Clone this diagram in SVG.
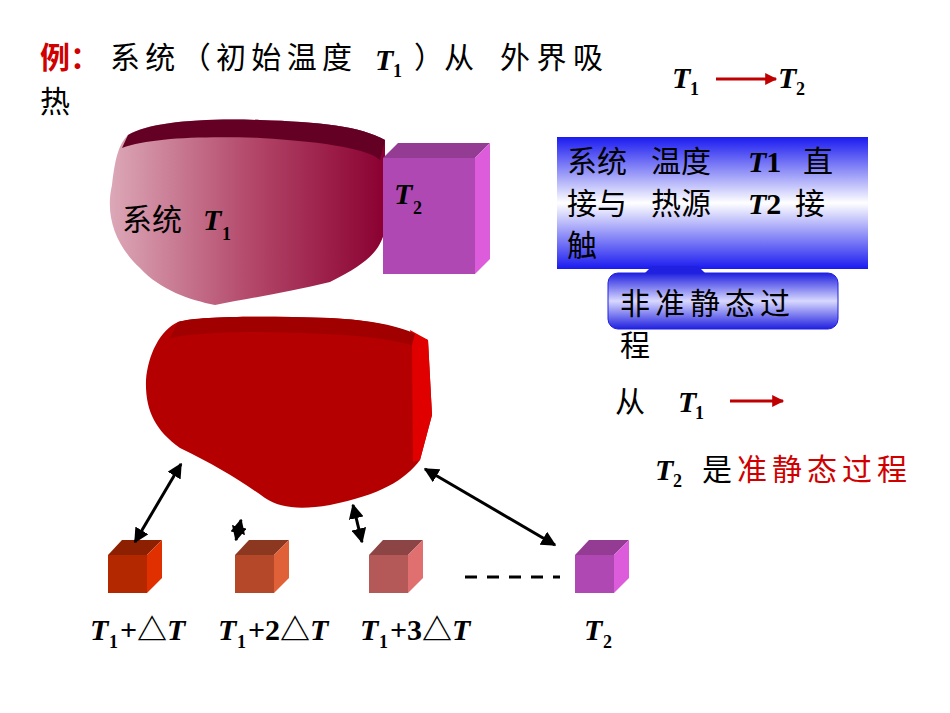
<svg xmlns="http://www.w3.org/2000/svg" width="950" height="713" viewBox="0 0 950 713">
<defs>
<linearGradient id="pk" x1="0" y1="0" x2="1" y2="0"><stop offset="0" stop-color="#dca8b8"/><stop offset="0.5" stop-color="#b44a6c"/><stop offset="1" stop-color="#8a0030"/></linearGradient>
<linearGradient id="bl" x1="0" y1="0" x2="0" y2="1"><stop offset="0" stop-color="#1a1af0"/><stop offset="0.5" stop-color="#ffffff"/><stop offset="1" stop-color="#1a1af0"/></linearGradient>
<linearGradient id="bl2" x1="0" y1="0" x2="0" y2="1"><stop offset="0" stop-color="#2020e0"/><stop offset="0.5" stop-color="#d8d8ff"/><stop offset="1" stop-color="#2020e0"/></linearGradient>
<marker id="ah" viewBox="0 0 10 10" refX="9" refY="5" markerWidth="5" markerHeight="5" orient="auto-start-reverse"><path d="M0,0L10,5L0,10z" fill="#000"/></marker>
<marker id="ar" viewBox="0 0 10 10" refX="9" refY="5" markerWidth="5" markerHeight="4" orient="auto"><path d="M0,0L10,5L0,10z" fill="#c00000"/></marker>
</defs>
<style>
text{font-family:"Liberation Sans","Noto Sans CJK SC",sans-serif;font-size:30px;fill:#000}
.i{font-family:"Liberation Serif",serif;font-style:italic;font-weight:bold}
.u{font-family:"Liberation Serif","Noto Sans CJK SC",serif;font-weight:bold}
.n{font-family:"Liberation Serif",serif;font-weight:bold;font-size:18px}
.k{stroke:#000;stroke-width:3;fill:none}
</style>
<g id="title">
<text x="40" y="68" font-weight="bold" style="fill:#d00000">例：</text>
<text x="110" y="68" textLength="242" lengthAdjust="spacing">系统（初始温度</text>
<text x="375" y="70" class="i">T</text><text x="393" y="77" class="n">1</text>
<text x="414" y="68">）从</text>
<text x="500" y="68" textLength="103" lengthAdjust="spacing">外界吸</text>
<text x="40" y="112">热</text>
</g>
<g id="t1t2">
<text x="672" y="88" class="i">T</text><text x="690" y="95" class="n">1</text>
<text x="778" y="88" class="i">T</text><text x="796" y="95" class="n">2</text>
</g>
<g id="sys1">
<path d="M128,135 C150,122 200,118 260,120 C320,122 360,126 385,140 L385,230 C380,250 370,262 330,282 C290,292 250,298 215,305 C190,300 160,290 140,268 C115,245 105,215 112,185 C115,160 118,145 128,135 Z" fill="url(#pk)"/>
<path d="M128,135 C150,122 200,118 260,120 C320,122 360,126 385,140 L380,160 C370,150 330,142 260,138 C200,136 150,138 122,148 Z" fill="#650025"/>
<text x="122" y="230">系统</text><text x="203" y="230" class="i">T</text><text x="222" y="240" class="n">1</text>
</g>
<g id="res">
<rect x="383" y="158" width="92" height="116" fill="#b048b4"/>
<path d="M383,158 L398,143 L490,143 L475,158Z" fill="#943c94"/>
<path d="M475,158 L490,143 L490,259 L475,274Z" fill="#dc5cdc"/>
<text x="394" y="204" class="i">T</text><text x="413" y="214" class="n">2</text>
</g>
<g id="sys2">
<path d="M178,322 C200,316 260,316 330,318 C370,320 400,326 428,340 L432,415 L420,460 C405,480 380,495 330,505 C300,510 280,508 265,498 C240,480 215,465 180,448 C155,430 145,410 146,380 C148,355 160,330 178,322 Z" fill="#b40000"/>
<path d="M410,330 L428,340 L432,415 L420,460 L413,462 L412,345Z" fill="#e00000"/>
<path d="M178,322 C200,316 260,316 330,318 C370,320 400,326 415,334 L412,345 C380,336 330,333 260,332 C210,332 185,335 170,338Z" fill="#a00000"/>
</g>
<g id="box1">
<rect x="557" y="137" width="311" height="132" fill="url(#bl)"/>
<text x="567" y="172">系统</text><text x="651" y="172">温度</text><text x="748" y="172" class="i">T<tspan font-style="normal">1</tspan></text><text x="803" y="172">直</text>
<text x="567" y="214">接与</text><text x="651" y="214">热源</text><text x="748" y="214" class="i">T<tspan font-style="normal">2</tspan></text><text x="795" y="214">接</text>
<text x="567" y="256">触</text>
</g>
<g id="box2">
<rect x="608" y="273" width="230" height="56" rx="10" fill="url(#bl2)" stroke="#2020e0"/>
<path d="M645,273 L652,266 L698,266 L705,273Z" fill="#2020e0"/>
<text x="620" y="314" textLength="170" lengthAdjust="spacing">非准静态过</text>
<text x="620" y="356">程</text>
</g>
<g id="text2">
<text x="615" y="412">从</text><text x="678" y="412" class="i">T</text><text x="695" y="419" class="n">1</text>
<text x="655" y="480" class="i">T</text><text x="673" y="487" class="n">2</text>
<text x="702" y="480">是</text><text x="737" y="480" style="fill:#d00000" textLength="170" lengthAdjust="spacing">准静态过程</text>
</g>
<g id="cubes">
<rect x="108" y="555" width="39" height="38" fill="#b42800"/><path d="M108,555 L122,540 L162,540 L147,555Z" fill="#8c2000"/><path d="M147,555 L162,540 L162,578 L147,593Z" fill="#e03000"/>
<rect x="235" y="555" width="39" height="38" fill="#b44828"/><path d="M235,555 L249,540 L289,540 L274,555Z" fill="#8c3820"/><path d="M274,555 L289,540 L289,578 L274,593Z" fill="#e06038"/>
<rect x="369" y="555" width="39" height="38" fill="#b45858"/><path d="M369,555 L383,540 L423,540 L408,555Z" fill="#8c4444"/><path d="M408,555 L423,540 L423,578 L408,593Z" fill="#e07070"/>
<rect x="575" y="555" width="39" height="38" fill="#b048b4"/><path d="M575,555 L589,540 L629,540 L614,555Z" fill="#943c94"/><path d="M614,555 L629,540 L629,578 L614,593Z" fill="#dc5cdc"/>
</g>
<g id="labels">
<text x="90" y="640" class="i">T</text><text x="109" y="648" class="n">1</text><text x="120" y="640" class="u">+△<tspan font-style="italic">T</tspan></text>
<text x="218" y="640" class="i">T</text><text x="237" y="648" class="n">1</text><text x="248" y="640" class="u">+2△<tspan font-style="italic">T</tspan></text>
<text x="360" y="640" class="i">T</text><text x="379" y="648" class="n">1</text><text x="390" y="640" class="u">+3△<tspan font-style="italic">T</tspan></text>
<text x="584" y="640" class="i">T</text><text x="603" y="648" class="n">2</text>
</g>
<g id="connectors">
<line x1="716" y1="79" x2="776" y2="79" stroke="#c00000" stroke-width="3" marker-end="url(#ar)"/>
<line x1="730" y1="401" x2="783" y2="401" stroke="#c00000" stroke-width="3" marker-end="url(#ar)"/>
<line x1="135" y1="542" x2="181" y2="464" class="k" marker-start="url(#ah)" marker-end="url(#ah)"/>
<line x1="236" y1="540" x2="241" y2="520" class="k" marker-start="url(#ah)" marker-end="url(#ah)"/>
<line x1="362" y1="542" x2="353" y2="505" class="k" marker-start="url(#ah)" marker-end="url(#ah)"/>
<line x1="555" y1="545" x2="425" y2="469" class="k" marker-start="url(#ah)" marker-end="url(#ah)"/>
<line x1="465" y1="577" x2="560" y2="577" stroke="#000" stroke-width="3" stroke-dasharray="12,10"/>
</g>
</svg>
